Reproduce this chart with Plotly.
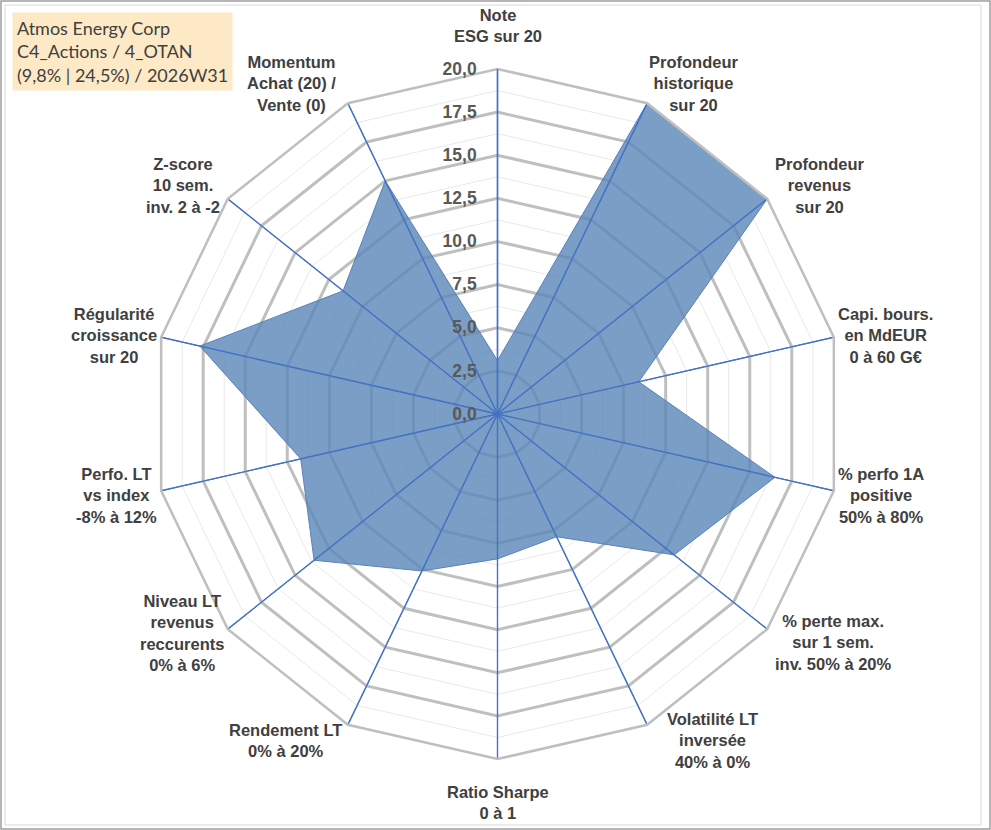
import math
import plotly.graph_objects as go

# ── Data ─────────────────────────────────────────────────────────────────────
CATEGORIES = [
    "Note<br>ESG sur 20",
    "Profondeur<br>historique<br>sur 20",
    "Profondeur<br>revenus<br>sur 20",
    "Capi. bours.<br>en MdEUR<br>0 à 60 G€",
    "% perfo 1A<br>positive<br>50% à 80%",
    "% perte max.<br>sur 1 sem.<br>inv. 50% à 20%",
    "Volatilité LT<br>inversée<br>40% à 0%",
    "Ratio Sharpe<br>0 à 1",
    "Rendement LT<br>0% à 20%",
    "Niveau LT<br>revenus<br>reccurents<br>0% à 6%",
    "Perfo. LT<br>vs index<br>-8% à 12%",
    "Régularité<br>croissance<br>sur 20",
    "Z-score<br>10 sem.<br>inv. 2 à -2",
    "Momentum<br>Achat (20) /<br>Vente (0)",
]
SCORES = [3.1, 20.0, 20.0, 8.4, 16.5, 13.1, 7.9, 8.4, 10.1, 13.6, 11.7, 17.7, 11.45, 15.0]

R_MAX = 20.0
MAJOR_TICKS = [0, 2.5, 5, 7.5, 10, 12.5, 15, 17.5, 20]
MINOR_TICKS = [1.25, 3.75, 6.25, 8.75, 11.25, 13.75, 16.25, 18.75]

TITLE_LINES = ["Atmos Energy Corp", "C4_Actions / 4_OTAN", "(9,8% | 24,5%) / 2026W31"]

# ── Style ────────────────────────────────────────────────────────────────────
W, H = 991, 830
CX, CY, RAD = 497.5, 414, 345          # centre / radius in pixels
BLUE = "#4472C4"
GRID = "#BFBFBF"
TXT = "#404040"
FONT = "Liberation Sans, Arial, sans-serif"
# small hand nudges (px) for a few labels, Excel places them a bit unevenly
NUDGE = {0: (0, -6), 1: (-4, -4), 6: (14, 0), 7: (0, 6), 9: (4, -9), 13: (-6, -4),
         3: (-6, 0), 4: (-6, 3), 10: (6, 3), 11: (6, 0)}

closed = CATEGORIES + [CATEGORIES[0]]

fig = go.Figure()

# faint minor rings
for m in MINOR_TICKS:
    fig.add_trace(go.Scatterpolar(
        r=[m] * len(closed), theta=closed, mode="lines",
        line=dict(color="#E9E9E9", width=1),
        hoverinfo="skip", showlegend=False,
    ))

# the score polygon
fig.add_trace(go.Scatterpolar(
    r=SCORES + [SCORES[0]], theta=closed,
    mode="lines", fill="toself",
    fillcolor="rgba(91,136,183,0.81)",
    line=dict(color="#5A82BD", width=1),
    hovertemplate="%{theta}: %{r:.1f}<extra></extra>",
    showlegend=False,
))

# blue spokes on top of the fill
for c in CATEGORIES:
    fig.add_trace(go.Scatterpolar(
        r=[0, R_MAX], theta=[c, c], mode="lines",
        line=dict(color=BLUE, width=1.4),
        hoverinfo="skip", showlegend=False,
    ))

dom_x = [(CX - RAD) / W, (CX + RAD) / W]
dom_y = [(H - CY - RAD) / H, (H - CY + RAD) / H]

fig.update_layout(
    width=W, height=H,
    margin=dict(l=0, r=0, t=0, b=0),
    paper_bgcolor="white",
    separators=", ",
    font=dict(family=FONT, color=TXT),
    polar=dict(
        domain=dict(x=dom_x, y=dom_y),
        bgcolor="white",
        gridshape="linear",
        radialaxis=dict(
            range=[0, R_MAX], tickvals=MAJOR_TICKS, tickformat=".1f",
            angle=90, side="counterclockwise", tickangle=90,
            showline=True, linecolor=BLUE, linewidth=1.4,
            gridcolor=GRID, gridwidth=2.5,
            ticks="outside", ticklen=14, tickcolor="rgba(0,0,0,0)",
            tickfont=dict(size=17.5, color="#595959", weight="bold"),
        ),
        angularaxis=dict(
            direction="clockwise", rotation=90,
            gridcolor=BLUE, gridwidth=1.4,
            showline=True, linecolor=GRID, linewidth=2.5,
            ticks="", showticklabels=False,
        ),
    ),
)

# category labels, centred text like the original
n = len(CATEGORIES)
for i, lab in enumerate(CATEGORIES):
    a = math.radians(90 - 360 * i / n)
    ca, sa = math.cos(a), math.sin(a)
    if abs(ca) < 0.2:
        xa, ya, off = "center", ("bottom" if sa > 0 else "top"), 16
    else:
        xa, ya, off = ("left" if ca > 0 else "right"), "middle", 8
    px = CX + (RAD + off) * ca
    py = CY - (RAD + off) * sa
    if abs(ca) >= 0.2 and abs(sa) > 0.5:
        py -= 8 if sa > 0 else -8
    dx, dy = NUDGE.get(i, (0, 0))
    px, py = px + dx, py + dy
    fig.add_annotation(
        xref="paper", yref="paper", x=px / W, y=1 - py / H,
        xanchor=xa, yanchor=ya, align="center", showarrow=False,
        text=lab, font=dict(family=FONT, size=16.5, color=TXT, weight="bold"),
    )

# title box
fig.add_annotation(
    xref="paper", yref="paper", x=12 / W, y=1 - 12 / H,
    xanchor="left", yanchor="top", align="left", showarrow=False,
    text="<br>".join(TITLE_LINES),
    font=dict(family="Lato, Liberation Sans, sans-serif", size=18, color=TXT),
    bgcolor="#FDE9C6", borderpad=4,
)

# chart frame
fig.add_shape(type="rect", xref="paper", yref="paper",
              x0=1 / W, x1=1 - 1 / W, y0=1 / H, y1=1 - 1 / H,
              line=dict(color="#9E9E9E", width=1.5))
fig.add_shape(type="rect", xref="paper", yref="paper",
              x0=5 / W, x1=1 - 10 / W, y0=5 / H, y1=1 - 5 / H,
              line=dict(color="#D9D9D9", width=1))

fig.write_html("out.html", config={"displayModeBar": False},
               post_script="document.body.style.margin='0';")
